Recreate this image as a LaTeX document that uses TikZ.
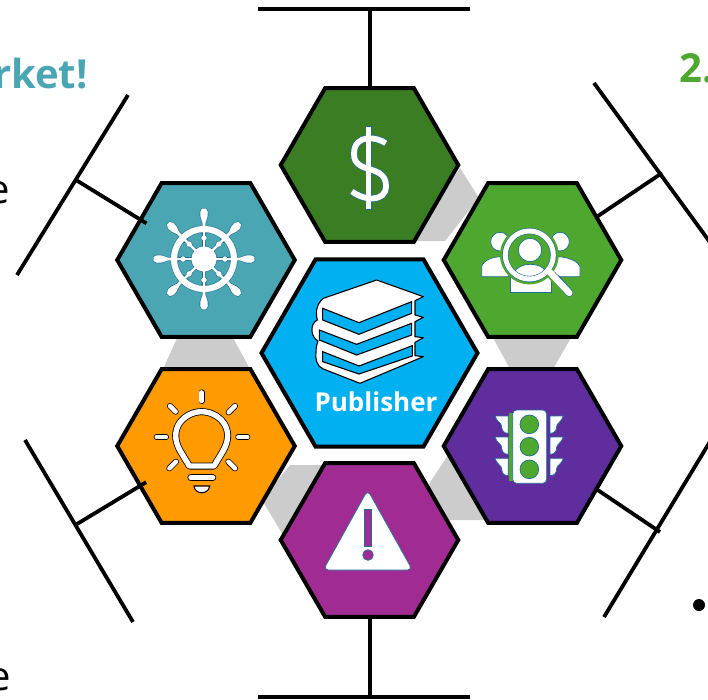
\documentclass[tikz,border=0pt]{standalone}
\usepackage{fontspec}
\setmainfont{Open Sans}
\usetikzlibrary{shapes.geometric}
\definecolor{cdollar}{HTML}{3B7D23}
\definecolor{cteal}{HTML}{4BA6B4}
\definecolor{cgreen}{HTML}{4EA72E}
\definecolor{cblue}{HTML}{00B0F0}
\definecolor{corange}{HTML}{FF9A00}
\definecolor{cpurple}{HTML}{5F2D9E}
\definecolor{cmagenta}{HTML}{A02B93}
\definecolor{cgrey}{HTML}{CCCCCC}
\definecolor{cline}{HTML}{1F6E96}
\tikzset{
  hex/.style={regular polygon,regular polygon sides=6,draw=black,line width=4pt,inner sep=0pt,outer sep=0pt,minimum size=177.5pt},
  bigline/.style={draw=black,line width=3.8pt},
  linkband/.style={fill=cgrey,draw=none},
  iconfill/.style={fill=white,draw=cline,line width=.7pt},
  darkfill/.style={fill=white,draw=black,line width=1.1pt},
  pagefill/.style={fill=cblue,draw=black,line width=1.1pt},
  icon/.style={shift={#1},scale=1/3},
}
\begin{document}
\begin{tikzpicture}[x=1pt,y=-1pt]
\useasboundingbox (0,0) rectangle (708,699);
\clip (0,0) rectangle (708,699);
% grey links
\path[linkband] (460,168)--(479,198)--(445,241)--(412,241)--cycle;
\path[linkband] (178,336)--(232,336)--(250,369)--(163,369)--cycle;
\path[linkband] (492,336)--(572,336)--(553,369)--(510,369)--cycle;
\path[linkband] (290,465)--(323,465)--(283,535)--(262,500)--cycle;
\path[linkband] (450,452)--(490,520)--(430,520)--(425,490)--cycle;
% hexagons
\node[hex,fill=cdollar] (dollar) at (369.5,165) {};
\node[hex,fill=cteal] (helm) at (206,260) {};
\node[hex,fill=cgreen] (people) at (532.5,260) {};
\node[hex,fill=corange] (bulb) at (206,446) {};
\node[hex,fill=cpurple] (lights) at (532.5,446) {};
\node[hex,fill=cmagenta] (warn) at (369.5,540) {};
\node[hex,fill=cblue,minimum size=216pt] (pub) at (369.5,353) {};
% brackets
\coordinate (tl) at (258,9); \coordinate (tr) at (470,9); \coordinate (tm) at (370,9);
\coordinate (bl) at (258,697); \coordinate (br) at (470,697); \coordinate (bm) at (370,697);
\coordinate (ula) at (128,95); \coordinate (ulb) at (17,275); \coordinate (ulm) at (76,180);
\coordinate (lla) at (25,440); \coordinate (llb) at (133,622); \coordinate (llm) at (77,524);
\coordinate (ura) at (594,83); \coordinate (urb) at (720,256); \coordinate (urm) at (662,173);
\coordinate (lra) at (604,617); \coordinate (lrb) at (720,425); \coordinate (lrm) at (660,532);
\draw[bigline] (tl)--(tr); \draw[bigline] (tm)--(tm|-dollar.north);
\draw[bigline] (bl)--(br); \draw[bigline] (bm)--(bm|-warn.south);
\draw[bigline] (ula)--(ulb); \draw[bigline,shorten >=-7pt] (ulm)--(helm);
\draw[bigline] (lla)--(llb); \draw[bigline,shorten >=-7pt] (llm)--(bulb);
\draw[bigline] (ura)--(urb); \draw[bigline] (urm)--(people);
\draw[bigline] (lra)--(lrb); \draw[bigline,shorten >=-2pt] (lrm)--(lights);
% dollar
\begin{scope}[icon={(270,80)}]
\path[iconfill] (288,140) rectangle (305,388);
\draw[line cap=butt,draw=cline,line width=7.2pt] (347,190) .. controls (325,172) and (252,158) .. (252,222) .. controls (252,285) and (348,250) .. (348,318) .. controls (348,368) and (280,362) .. (246,334);
\draw[line cap=butt,draw=white,line width=5.8pt] (347,190) .. controls (325,172) and (252,158) .. (252,222) .. controls (252,285) and (348,250) .. (348,318) .. controls (348,368) and (280,362) .. (246,334);
\fill[white] (289,141) rectangle (304,387);
\end{scope}
% helm
\begin{scope}[shift={(204,259)}]
\foreach \c/\w in {cline/1.2,white/0.01}{
 \foreach \a in {0,45,...,315}{
  \begin{scope}[rotate=\a]
  \path[fill=\c,draw=\c,line width=\w pt,rounded corners=2pt] (26,-1.3)--(38,-1.4)--(41,-3.6)--(49,-3.8)--(51.5,0)--(49,3.8)--(41,3.6)--(38,1.4)--(26,1.3)--cycle;
  \path[fill=\c,draw=\c,line width=\w pt] (10,-1.2) rectangle (29,1.2);
  \path[fill=\c,draw=\c,line width=\w pt] (21,0) circle[radius=2.6];
  \end{scope}
 }
 \path[fill=\c,draw=\c,line width=\w pt] (0,0) circle[radius=12.5];
 \path[fill=\c,draw=\c,line width=\w pt,even odd rule] (0,0) circle[radius=33] (0,0) circle[radius=27];
}
\end{scope}
% people and lens
\begin{scope}[icon={(440,175)}]
\path[iconfill] (180,200) circle[radius=28];
\path[iconfill] (360,200) circle[radius=28];
\path[iconfill] (125,305)--(125,275) .. controls (130,255) and (160,245) .. (185,245) .. controls (195,245) and (205,250) .. (215,255) -- (205,305)--cycle;
\path[iconfill] (420,305)--(420,275) .. controls (415,260) and (385,245) .. (350,245) -- (330,255) -- (340,305)--cycle;
\path[iconfill] (210,300)--(210,353)--(335,353)--(335,300)--cycle;
\fill[cgreen] (268,240) circle[radius=88];
\draw[cgreen,line width=9pt,line cap=round] (335,300)--(385,352);
\begin{scope}
\clip (268,240) circle[radius=70];
\path[iconfill] (205,330) .. controls (215,285) and (240,268) .. (270,268) .. controls (300,268) and (325,280) .. (335,330) -- cycle;
\end{scope}
\path[iconfill] (270,225) circle[radius=35];
\draw[cline,line width=6.2pt] (268,240) circle[radius=72];
\draw[white,line width=5pt] (268,240) circle[radius=72];
\draw[cline,line width=7.6pt,line cap=round] (350,310)--(388,354);
\draw[white,line width=6.4pt,line cap=round] (330,292)--(388,354);
\end{scope}
% books
\begin{scope}[icon={(260,255)}]
\path[darkfill,line join=round] (350,75)--(490,125)--(465,137)--(465,180)--(490,187)--(465,200)--(465,245)--(490,248)--(465,262)--(465,302)--(490,305)--(300,385)--(190,342) .. controls (170,335) and (165,310) .. (168,290) .. controls (168,275) and (172,265) .. (174,258) .. controls (150,245) and (150,205) .. (172,195) .. controls (168,180) and (165,150) .. (190,130) --cycle;
\path[pagefill] (188,160)--(297,203)--(455,140)--(455,175)--(297,238)--(188,195)--cycle;
\path[pagefill] (178,225)--(290,268)--(455,205)--(455,240)--(290,300)--(178,255)--cycle;
\path[pagefill] (188,290)--(297,333)--(457,272)--(457,303)--(297,357)--(188,320)--cycle;
\end{scope}
\node[font=\bfseries,text=white,inner sep=0pt] (publabel) at (376,402) {\fontsize{26pt}{26pt}\selectfont Publisher};
% bulb
\begin{scope}[icon={(110,360)}]
\tikzset{ray/.style={draw=black,double=white,line width=.8pt,double distance=#1,line cap=round},ray/.default=4.4pt}
\draw[ray=5.4pt,line cap=butt,line join=round] (238,318) -- (212,275) .. controls (170,205) and (225,155) .. (275,155) .. controls (325,155) and (380,205) .. (338,275) -- (312,318) -- cycle;
\draw[ray] (275,97)--(275,123);
\draw[ray] (180,138)--(197,155);
\draw[ray] (375,138)--(356,157);
\draw[ray] (140,231)--(168,231);
\draw[ray] (385,231)--(412,231);
\draw[ray] (178,325)--(198,305);
\draw[ray] (355,305)--(375,325);
\draw[ray=5.5pt] (243,353)--(308,353);
\path[darkfill] (252,378)--(299,378) .. controls (296,405) and (255,405) .. (252,378)--cycle;
\end{scope}
% traffic lights
\begin{scope}[icon={(440,360)}]
\fill[cgreen] (207,160) rectangle (218,362);
\foreach \d in {0,63,127}{
\begin{scope}[shift={(0,\d)}]
\path[iconfill] (165,168)--(205,168)--(205,220) .. controls (190,220) and (185,210) .. (185,198) .. controls (185,190) and (170,185) .. (165,168)--cycle;
\path[iconfill] (370,168)--(330,168)--(330,220) .. controls (345,220) and (350,210) .. (350,198) .. controls (350,190) and (365,185) .. (370,168)--cycle;
\end{scope}
}
\path[iconfill,rounded corners=4pt] (218,150) rectangle (320,370);
\foreach \y in {193,260,328}{\path[fill=cgreen,draw=cline,line width=.7pt] (268,\y) circle[radius=28];}
\end{scope}
% warning
\begin{scope}[icon={(275,455)}]
\path[iconfill,rounded corners=5pt] (278,105)--(412,345)--(145,345)--cycle;
\path[fill=cmagenta,draw=cline,line width=.7pt] (268,163) rectangle (290,275);
\path[fill=cmagenta,draw=cline,line width=.7pt] (279,300) circle[radius=16];
\end{scope}
% clipped text
\node[font=\bfseries\fontsize{40pt}{40pt}\selectfont,text=cteal,anchor=base east,inner sep=0pt] (mk) at (88,88) {rket!};
\node[font=\bfseries\fontsize{40pt}{40pt}\selectfont,text=cgreen,anchor=base west,inner sep=0pt] (two) at (679,82) {2.};
\node[font=\fontsize{40pt}{40pt}\selectfont,anchor=base east,inner sep=0pt] (e1) at (10,203) {e};
\node[font=\fontsize{40pt}{40pt}\selectfont,anchor=base east,inner sep=0pt] (e2) at (11,690) {e};
\fill[black] (699,605) circle[radius=6];
\end{tikzpicture}
\end{document}
